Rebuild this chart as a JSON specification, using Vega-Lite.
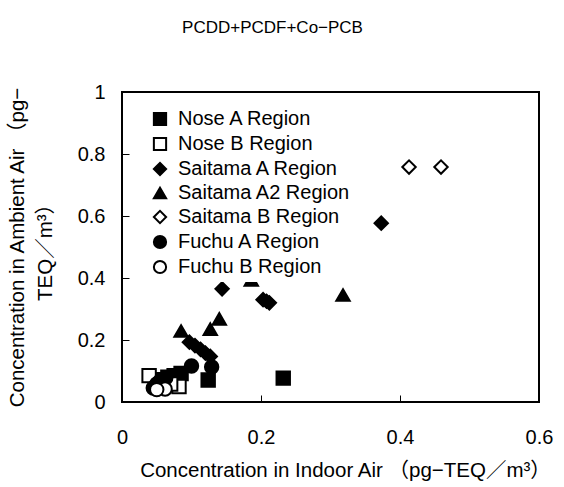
{
  "$schema": "https://vega.github.io/schema/vega-lite/v6.json",
  "width": 417,
  "height": 310,
  "autosize": {"type": "none"},
  "padding": {"left": 122, "top": 92, "right": 25, "bottom": 85},
  "title": {
    "text": "PCDD+PCDF+Co−PCB",
    "anchor": "middle",
    "frame": "group",
    "dx": -58,
    "offset": 45,
    "fontSize": 17,
    "fontWeight": "normal",
    "color": "black"
  },
  "data": {
    "values": [
      {"series": "Nose A Region", "indoor": 0.232, "ambient": 0.077},
      {"series": "Nose A Region", "indoor": 0.124, "ambient": 0.071},
      {"series": "Nose A Region", "indoor": 0.085, "ambient": 0.092},
      {"series": "Nose A Region", "indoor": 0.075, "ambient": 0.085},
      {"series": "Nose A Region", "indoor": 0.066, "ambient": 0.08},
      {"series": "Nose A Region", "indoor": 0.058, "ambient": 0.072},
      {"series": "Nose B Region", "indoor": 0.039, "ambient": 0.085},
      {"series": "Nose B Region", "indoor": 0.082, "ambient": 0.05},
      {"series": "Nose B Region", "indoor": 0.07, "ambient": 0.058},
      {"series": "Saitama A Region", "indoor": 0.373, "ambient": 0.577},
      {"series": "Saitama A Region", "indoor": 0.144, "ambient": 0.365},
      {"series": "Saitama A Region", "indoor": 0.203, "ambient": 0.33},
      {"series": "Saitama A Region", "indoor": 0.208, "ambient": 0.325},
      {"series": "Saitama A Region", "indoor": 0.212, "ambient": 0.32},
      {"series": "Saitama A Region", "indoor": 0.097, "ambient": 0.193},
      {"series": "Saitama A Region", "indoor": 0.105, "ambient": 0.182},
      {"series": "Saitama A Region", "indoor": 0.113, "ambient": 0.17},
      {"series": "Saitama A Region", "indoor": 0.12, "ambient": 0.158},
      {"series": "Saitama A Region", "indoor": 0.127, "ambient": 0.147},
      {"series": "Saitama A2 Region", "indoor": 0.186, "ambient": 0.394},
      {"series": "Saitama A2 Region", "indoor": 0.318, "ambient": 0.345},
      {"series": "Saitama A2 Region", "indoor": 0.14, "ambient": 0.268},
      {"series": "Saitama A2 Region", "indoor": 0.127, "ambient": 0.235},
      {"series": "Saitama A2 Region", "indoor": 0.085, "ambient": 0.229},
      {"series": "Saitama B Region", "indoor": 0.413, "ambient": 0.758},
      {"series": "Saitama B Region", "indoor": 0.459, "ambient": 0.758},
      {"series": "Fuchu A Region", "indoor": 0.1, "ambient": 0.116},
      {"series": "Fuchu A Region", "indoor": 0.129, "ambient": 0.113},
      {"series": "Fuchu A Region", "indoor": 0.045, "ambient": 0.045},
      {"series": "Fuchu A Region", "indoor": 0.05, "ambient": 0.058},
      {"series": "Fuchu A Region", "indoor": 0.055, "ambient": 0.068},
      {"series": "Fuchu A Region", "indoor": 0.063, "ambient": 0.078},
      {"series": "Fuchu B Region", "indoor": 0.062, "ambient": 0.042},
      {"series": "Fuchu B Region", "indoor": 0.05, "ambient": 0.04}
    ]
  },
  "mark": {"type": "point", "size": 180, "strokeWidth": 2, "opacity": 1},
  "encoding": {
    "x": {
      "field": "indoor",
      "type": "quantitative",
      "scale": {"domain": [0, 0.6], "nice": false},
      "axis": {
        "values": [0, 0.2, 0.4, 0.6],
        "format": "~g",
        "offset": -7,
        "ticks": true,
        "tickSize": 7,
        "tickColor": "black",
        "tickWidth": 1,
        "labelPadding": 25,
        "title": "Concentration in Indoor Air （pg−TEQ／m³）",
        "titleX": 223,
        "titleY": 75,
        "titleAlign": "center",
        "titleBaseline": "middle"
      }
    },
    "y": {
      "field": "ambient",
      "type": "quantitative",
      "scale": {"domain": [0, 1], "nice": false},
      "axis": {
        "values": [0, 0.2, 0.4, 0.6, 0.8, 1],
        "format": "~g",
        "offset": -7,
        "ticks": true,
        "tickSize": 7,
        "tickColor": "black",
        "tickWidth": 1,
        "labelPadding": 17,
        "title": ["Concentration in Ambient Air （pg−", "TEQ／m³）"],
        "titleX": -112,
        "titleY": 155,
        "titleAngle": 270,
        "titleAlign": "center",
        "titleBaseline": "middle",
        "titleLineHeight": 28
      }
    },
    "shape": {
      "field": "series",
      "type": "nominal",
      "title": null,
      "scale": {
        "domain": ["Nose A Region", "Nose B Region", "Saitama A Region", "Saitama A2 Region", "Saitama B Region", "Fuchu A Region", "Fuchu B Region"],
        "range": ["square", "square", "diamond", "triangle-up", "diamond", "circle", "circle"]
      },
      "legend": {"labelExpr": "datum.label + '\u00a0\u00a0\u00a0\u00a0\u00a0\u00a0\u00a0\u00a0'"}
    },
    "fill": {
      "field": "series",
      "type": "nominal",
      "title": null,
      "scale": {
        "domain": ["Nose A Region", "Nose B Region", "Saitama A Region", "Saitama A2 Region", "Saitama B Region", "Fuchu A Region", "Fuchu B Region"],
        "range": ["black", "white", "black", "black", "white", "black", "white"]
      },
      "legend": {"labelExpr": "datum.label + '\u00a0\u00a0\u00a0\u00a0\u00a0\u00a0\u00a0\u00a0'"}
    },
    "stroke": {
      "field": "series",
      "type": "nominal",
      "title": null,
      "scale": {
        "domain": ["Nose A Region", "Nose B Region", "Saitama A Region", "Saitama A2 Region", "Saitama B Region", "Fuchu A Region", "Fuchu B Region"],
        "range": ["black", "black", "black", "black", "black", "black", "black"]
      },
      "legend": {"labelExpr": "datum.label + '\u00a0\u00a0\u00a0\u00a0\u00a0\u00a0\u00a0\u00a0'"}
    }
  },
  "config": {
    "font": "Liberation Sans, Noto Sans CJK JP",
    "view": {"stroke": "black", "strokeWidth": 2},
    "axis": {
      "zindex": 1,
      "grid": false,
      "domain": false,
      "labelFontSize": 20,
      "labelColor": "black",
      "labelFlush": false,
      "labelOverlap": false,
      "titleFontSize": 20.5,
      "titleFontWeight": "normal",
      "titleColor": "black"
    },
    "legend": {
      "orient": "none",
      "legendX": 24,
      "legendY": 13,
      "padding": 4,
      "fillColor": "white",
      "labelFontSize": 20,
      "labelColor": "black",
      "labelOffset": 8,
      "rowPadding": 3,
      "symbolSize": 150,
      "symbolStrokeWidth": 2,
      "labelLimit": 400
    }
  }
}
